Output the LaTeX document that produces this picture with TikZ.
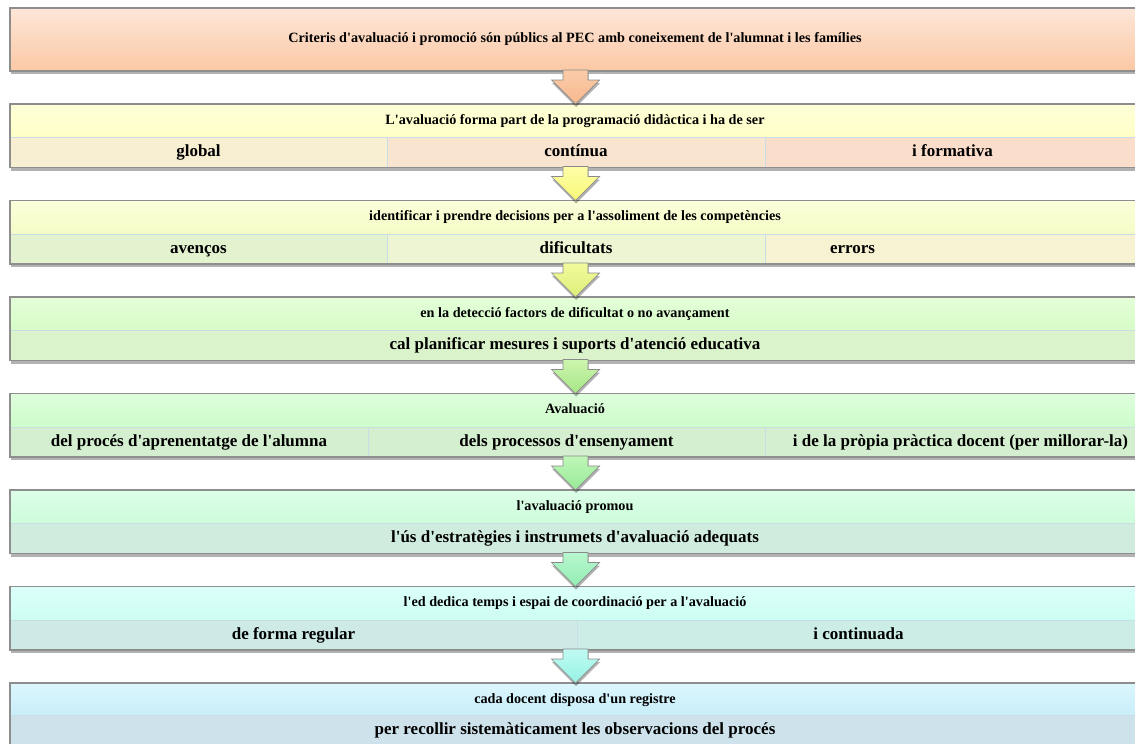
\documentclass[tikz,border=0pt]{standalone}
\usepackage{fontspec}
\setmainfont{Liberation Serif}[Ligatures=TeXOff]
\usetikzlibrary{shadows,calc}
\definecolor{frameg}{HTML}{8E8E8E}
\definecolor{cellb}{HTML}{C9DDE6}
\definecolor{arrowg}{HTML}{8A8A8A}
% level 1
\definecolor{oA}{HTML}{FDE6D8}\definecolor{oB}{HTML}{FBC8A4}
\definecolor{aoA}{HTML}{FACBA8}\definecolor{aoB}{HTML}{F7B98F}
% level 2
\definecolor{yA}{HTML}{FFFFD8}\definecolor{yB}{HTML}{FFFFC6}
\definecolor{c21}{HTML}{F8EFD3}\definecolor{c22}{HTML}{F9E5CF}\definecolor{c23}{HTML}{FADDCB}
\definecolor{ayA}{HTML}{FFFFA8}\definecolor{ayB}{HTML}{F6F677}
% level 3
\definecolor{gA}{HTML}{FBFFDA}\definecolor{gB}{HTML}{F5FBC6}
\definecolor{c31}{HTML}{E3F3CF}\definecolor{c32}{HTML}{EEF5D2}\definecolor{c33}{HTML}{F7F3D2}
\definecolor{agA}{HTML}{F2FA9C}\definecolor{agB}{HTML}{DDEF78}
% level 4
\definecolor{hA}{HTML}{E4FED9}\definecolor{hB}{HTML}{D6FCC6}
\definecolor{c41}{HTML}{DAF3CB}
\definecolor{ahA}{HTML}{CDF5AE}\definecolor{ahB}{HTML}{A6E685}
% level 5
\definecolor{iA}{HTML}{DEFEDC}\definecolor{iB}{HTML}{CDFCCA}
\definecolor{c51}{HTML}{D4EFCF}
\definecolor{aiA}{HTML}{BFF6B8}\definecolor{aiB}{HTML}{98EA98}
% level 6
\definecolor{jA}{HTML}{DCFEE8}\definecolor{jB}{HTML}{CCFCDA}
\definecolor{c61}{HTML}{CFECDE}
\definecolor{ajA}{HTML}{B8F7CE}\definecolor{ajB}{HTML}{92EDB2}
% level 7
\definecolor{kA}{HTML}{DCFFFA}\definecolor{kB}{HTML}{CCFDF3}
\definecolor{c71}{HTML}{CDEAE7}\definecolor{c72}{HTML}{CBEDE5}
\definecolor{akA}{HTML}{C0FBF2}\definecolor{akB}{HTML}{96F2E4}
% level 8
\definecolor{lA}{HTML}{DCF7FD}\definecolor{lB}{HTML}{C8EDFA}
\definecolor{c81}{HTML}{CDE2EA}
\newcommand\blockarrow[4]{%
  \path[arrowst, top color=#3, bottom color=#4] let \p1=(#1.south), \p2=(#2.north) in
  (563pt,{\y1+1pt}) -- (588pt,{\y1+1pt}) -- (588pt,{\y2+24pt}) -- (599.5pt,{\y2+24pt})
  -- (575.5pt,{\y2}) -- (551.5pt,{\y2+24pt}) -- (563pt,{\y2+24pt}) -- cycle;}
\begin{document}
\begin{tikzpicture}[x=1pt,y=-1pt,
  shadowed/.style={drop shadow={shadow xshift=0.5pt, shadow yshift=-3pt, opacity=0.3, fill=black}},
  frame/.style={anchor=north west, minimum width=1130pt, inner sep=0pt, outer sep=0pt, fill=white, shadowed},
  tfont/.style={font=\bfseries\fontsize{14.2}{16}\selectfont, text height=9.5pt, text depth=3pt},
  titlebox/.style 2 args={anchor=north west, minimum width=1130pt, minimum height=33.5pt, inner sep=0pt, outer sep=0pt,
     top color=#1, bottom color=#2, tfont},
  cell/.style={anchor=north west, minimum height=30pt, inner sep=0pt, outer sep=0pt, draw=cellb, line width=0.8pt,
     fill=#1, font=\bfseries\fontsize{17}{19}\selectfont, text height=11.5pt, text depth=3.5pt},
  rim/.style={draw=frameg, line width=1.3pt},
  arrowst/.style={draw=arrowg, line width=0.7pt, line join=miter, shadowed}
]
\useasboundingbox (0,0) rectangle (1135,744);
% level 1
\node[frame, minimum height=63pt, top color=oA, bottom color=oB, tfont] (b1) at (10,8)
  {Criteris d'avaluació i promoció són públics al PEC amb coneixement de l'alumnat i les famílies};
\draw[rim] (b1.north west) rectangle (b1.south east);
% level 2
\node[frame, minimum height=63.5pt] (f2) at (10,104) {};
\node[titlebox={yA}{yB}] (t2) at (10,104) {L'avaluació forma part de la programació didàctica i ha de ser};
\node[cell=c21, minimum width=377pt] (c2a) at (10,137.5) {global};
\node[cell=c22, minimum width=378pt] (c2b) at (387,137.5) {contínua};
\node[cell=c23, minimum width=375pt] (c2c) at (765,137.5) {i formativa};
\draw[rim] (f2.north west) rectangle (f2.south east);
% level 3
\node[frame, minimum height=63.5pt] (f3) at (10,200.5) {};
\node[titlebox={gA}{gB}] (t3) at (10,200.5) {identificar i prendre decisions per a l'assoliment de les competències};
\node[cell=c31, minimum width=377pt] (c3a) at (10,234) {avenços};
\node[cell=c32, minimum width=378pt] (c3b) at (387,234) {dificultats};
\node[cell=c33, minimum width=375pt] (c3c) at (765,234) {errors\hspace*{200pt}};
\draw[rim] (f3.north west) rectangle (f3.south east);
% level 4
\node[frame, minimum height=63.5pt] (f4) at (10,297) {};
\node[titlebox={hA}{hB}] (t4) at (10,297) {en la detecció factors de dificultat o no avançament};
\node[cell=c41, minimum width=1130pt] (c4a) at (10,330.5) {cal planificar mesures i suports d'atenció educativa};
\draw[rim] (f4.north west) rectangle (f4.south east);
% level 5
\node[frame, minimum height=63.5pt] (f5) at (10,393.5) {};
\node[titlebox={iA}{iB}] (t5) at (10,393.5) {Avaluació};
\node[cell=c51, minimum width=358pt] (c5a) at (10,427) {del procés d'aprenentatge de l'alumna};
\node[cell=c51, minimum width=397pt] (c5b) at (368,427) {dels processos d'ensenyament};
\node[cell=c51, minimum width=375pt] (c5c) at (765,427) {\hspace*{16pt}i de la pròpia pràctica docent (per millorar-la)};
\draw[rim] (f5.north west) rectangle (f5.south east);
% level 6
\node[frame, minimum height=63.5pt] (f6) at (10,490) {};
\node[titlebox={jA}{jB}] (t6) at (10,490) {l'avaluació promou};
\node[cell=c61, minimum width=1130pt] (c6a) at (10,523.5) {l'ús d'estratègies i instrumets d'avaluació adequats};
\draw[rim] (f6.north west) rectangle (f6.south east);
% level 7
\node[frame, minimum height=63.5pt] (f7) at (10,586.5) {};
\node[titlebox={kA}{kB}] (t7) at (10,586.5) {l'ed dedica temps i espai de coordinació per a l'avaluació};
\node[cell=c71, minimum width=567pt] (c7a) at (10,620) {de forma regular};
\node[cell=c72, minimum width=563pt] (c7b) at (577,620) {i continuada};
\draw[rim] (f7.north west) rectangle (f7.south east);
% level 8
\node[frame, minimum height=63.5pt] (f8) at (10,683) {};
\node[titlebox={lA}{lB}] (t8) at (10,683) {cada docent disposa d'un registre};
\node[cell=c81, minimum width=1130pt] (c8a) at (10,715) {per recollir sistemàticament les observacions del procés};
\draw[rim] (f8.north west) rectangle (f8.south east);
% arrows
\blockarrow{b1}{f2}{aoA}{aoB}
\blockarrow{f2}{f3}{ayA}{ayB}
\blockarrow{f3}{f4}{agA}{agB}
\blockarrow{f4}{f5}{ahA}{ahB}
\blockarrow{f5}{f6}{aiA}{aiB}
\blockarrow{f6}{f7}{ajA}{ajB}
\blockarrow{f7}{f8}{akA}{akB}
\end{tikzpicture}
\end{document}
